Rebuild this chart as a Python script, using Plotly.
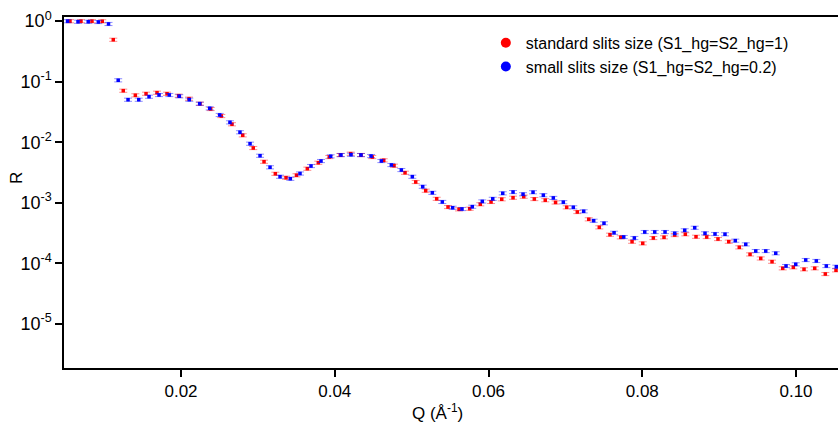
import plotly.graph_objects as go

# ---- data ----
q_std = [0.00556, 0.00699, 0.00842, 0.00976, 0.01119, 0.01249, 0.01406, 0.01545, 0.01688, 0.01818,
         0.01970, 0.02104, 0.02247, 0.02386, 0.02524, 0.02663, 0.02803, 0.02940, 0.03080, 0.03227,
         0.03366, 0.03502, 0.03643, 0.03786, 0.03929, 0.04072, 0.04207, 0.04341, 0.04488, 0.04637,
         0.04771, 0.04914, 0.05053, 0.05183, 0.05326, 0.05473, 0.05616, 0.05755, 0.05893, 0.06033,
         0.06172, 0.06319, 0.06458, 0.06596, 0.06738, 0.06872, 0.07017, 0.07155, 0.07304, 0.07441,
         0.07580, 0.07720, 0.07867, 0.08006, 0.08144, 0.08283, 0.08422, 0.08560, 0.08699, 0.08838,
         0.08985, 0.09125, 0.09262, 0.09402, 0.09541, 0.09688, 0.09827, 0.09965, 0.10104, 0.10243,
         0.10381, 0.10520]
r_std = [1.00, 1.00, 1.00, 0.996, 0.494, 0.0710, 0.0596, 0.0633, 0.0658, 0.0633,
         0.0587, 0.0524, 0.0433, 0.0354, 0.0271, 0.0198, 0.0130, 0.00802, 0.00476, 0.00301,
         0.00259, 0.00284, 0.00365, 0.00458, 0.00569, 0.00614, 0.00646, 0.00614, 0.00569, 0.00502,
         0.00409, 0.00313, 0.00220, 0.00158, 0.00116, 0.000849, 0.000778, 0.000796, 0.000942, 0.00103,
         0.00114, 0.00121, 0.00126, 0.00115, 0.00110, 0.00101, 0.000839, 0.000702, 0.000532, 0.000392,
         0.000296, 0.000268, 0.000227, 0.000213, 0.000261, 0.000268, 0.000292, 0.000301, 0.000274, 0.000271,
         0.000251, 0.000227, 0.000183, 0.000140, 0.000120, 0.000106, 0.0000824, 0.0000856, 0.0000793, 0.0000824,
         0.0000663, 0.0000764]

q_small = [0.00524, 0.00660, 0.00793, 0.00924, 0.01057, 0.01183, 0.01311, 0.01450, 0.01584, 0.01714,
           0.01848, 0.01978, 0.02108, 0.02243, 0.02373, 0.02503, 0.02637, 0.02767, 0.02898, 0.03028,
           0.03158, 0.03288, 0.03422, 0.03548, 0.03691, 0.03821, 0.03947, 0.04081, 0.04211, 0.04341,
           0.04472, 0.04606, 0.04736, 0.04866, 0.05009, 0.05144, 0.05269, 0.05399, 0.05534, 0.05655,
           0.05789, 0.05919, 0.06055, 0.06185, 0.06319, 0.06449, 0.06579, 0.06713, 0.06843, 0.06973,
           0.07103, 0.07238, 0.07368, 0.07502, 0.07633, 0.07759, 0.07897, 0.08032, 0.08162, 0.08296,
           0.08422, 0.08552, 0.08682, 0.08816, 0.08946, 0.09076, 0.09210, 0.09346, 0.09476, 0.09606,
           0.09736, 0.09870, 0.09996, 0.10126, 0.10264, 0.10394, 0.10524]
r_small = [1.00, 0.98, 0.98, 0.97, 0.90, 0.1055, 0.0504, 0.0504, 0.0565, 0.0603,
           0.0603, 0.0574, 0.0504, 0.0433, 0.0363, 0.0282, 0.0213, 0.0146, 0.00945, 0.00598,
           0.00385, 0.00269, 0.00249, 0.00304, 0.00404, 0.00489, 0.00585, 0.00614, 0.00621, 0.00614,
           0.00591, 0.00489, 0.00420, 0.00347, 0.00269, 0.00184, 0.00146, 0.00103, 0.000826, 0.000787,
           0.000859, 0.00105, 0.00116, 0.00143, 0.00150, 0.00138, 0.00149, 0.00133, 0.00120, 0.00102,
           0.000839, 0.000721, 0.000504, 0.000457, 0.000319, 0.000271, 0.000261, 0.000328, 0.000328, 0.000328,
           0.000312, 0.000350, 0.000386, 0.000312, 0.000304, 0.000301, 0.000236, 0.000205, 0.000159, 0.000159,
           0.000146, 0.0000899, 0.0000959, 0.000113, 0.000109, 0.0000899, 0.0000875]

x_tickvals = [0.02, 0.04, 0.06, 0.08, 0.10]
x_ticktext = ["0.02", "0.04", "0.06", "0.08", "0.10"]
y_tickvals = [1, 1e-1, 1e-2, 1e-3, 1e-4, 1e-5]
y_ticktext = ["10<sup>0</sup>", "10<sup>-1</sup>", "10<sup>-2</sup>",
              "10<sup>-3</sup>", "10<sup>-4</sup>", "10<sup>-5</sup>"]

name_std = "standard slits size (S1_hg=S2_hg=1)"
name_small = "small slits size (S1_hg=S2_hg=0.2)"

FONT = "Liberation Sans"
RED = "#ff0000"
BLUE = "#0000ff"

fig = go.Figure()

def add_series(q, r, color, err_color):
    fig.add_trace(go.Scatter(
        x=q, y=r, mode="markers", showlegend=False,
        marker=dict(symbol="square", size=3.5, color=color, line=dict(width=0)),
        error_y=dict(type="percent", value=6, color=err_color, thickness=1, width=4),
        cliponaxis=True,
    ))

add_series(q_std, r_std, RED, "rgba(255,0,0,0.45)")
add_series(q_small, r_small, BLUE, "rgba(0,0,255,0.45)")

# legend entries (circle symbols)
fig.add_trace(go.Scatter(x=[None], y=[None], mode="markers", name=name_std,
                         marker=dict(symbol="circle", size=10, color=RED)))
fig.add_trace(go.Scatter(x=[None], y=[None], mode="markers", name=name_small,
                         marker=dict(symbol="circle", size=10, color=BLUE)))

fig.update_layout(
    width=838, height=424,
    margin=dict(l=64, r=0, t=17, b=56),
    paper_bgcolor="white", plot_bgcolor="white",
    font=dict(family=FONT, size=16, color="black"),
    showlegend=True,
    legend=dict(x=0.545, y=0.975, xanchor="left", yanchor="top",
                bgcolor="rgba(0,0,0,0)", font=dict(size=16, family=FONT),
                itemsizing="trace"),
)

fig.update_xaxes(
    range=[0.00478, 0.10546],
    tickvals=x_tickvals, ticktext=x_ticktext,
    ticks="outside", ticklen=7, tickwidth=1.5, tickcolor="black",
    showline=True, linecolor="black", linewidth=1.5, mirror=True,
    showgrid=False, zeroline=False,
    tickfont=dict(size=17, family=FONT, color="black"),
)
fig.update_yaxes(
    type="log", range=[-5.732, 0.069],
    tickvals=y_tickvals, ticktext=y_ticktext,
    ticks="outside", ticklen=7, tickwidth=1.5, tickcolor="black",
    showline=True, linecolor="black", linewidth=1.5, mirror=False,
    showgrid=False, zeroline=False,
    tickfont=dict(size=18, family=FONT, color="black"),
)

fig.add_annotation(text="Q (Å<sup>-1</sup>)", xref="paper", yref="paper",
                   x=(437 - 64) / 774, y=-(412 - 368) / 351, showarrow=False,
                   font=dict(size=17, family=FONT, color="black"),
                   xanchor="center", yanchor="middle")
fig.add_annotation(text="R", xref="paper", yref="paper",
                   x=-(64 - 16) / 774, y=(368 - 178) / 351, showarrow=False, textangle=-90,
                   font=dict(size=17, family=FONT, color="black"),
                   xanchor="center", yanchor="middle")

fig.write_html("out.html")
